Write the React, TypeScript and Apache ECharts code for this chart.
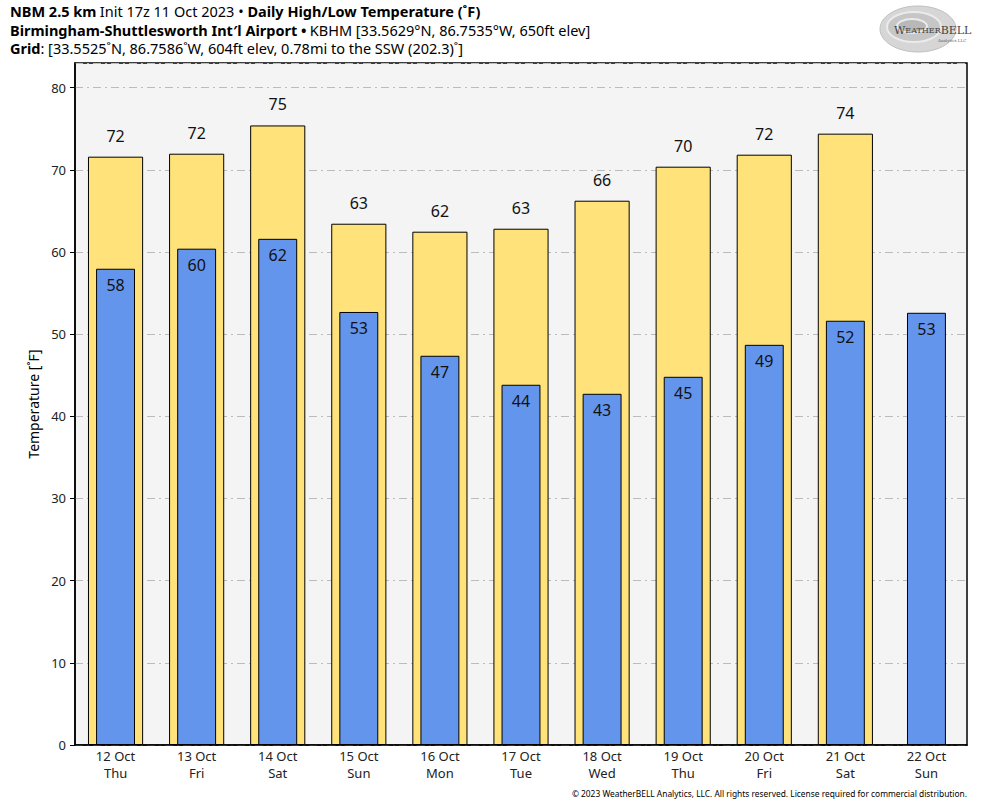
import React, { useEffect, useRef } from "react";
import * as echarts from "echarts";

const dates = ["12 Oct", "13 Oct", "14 Oct", "15 Oct", "16 Oct", "17 Oct", "18 Oct", "19 Oct", "20 Oct", "21 Oct", "22 Oct"];
const weekdays = ["Thu", "Fri", "Sat", "Sun", "Mon", "Tue", "Wed", "Thu", "Fri", "Sat", "Sun"];
const highs: (number | null)[] = [71.6, 71.96, 75.4, 63.44, 62.47, 62.83, 66.24, 70.38, 71.84, 74.4, null];
const lows = [57.96, 60.4, 61.6, 52.7, 47.37, 43.84, 42.74, 44.81, 48.7, 51.63, 52.6];
const yTicks = { min: 0, max: 83, interval: 10 };

const FONT = "Noto Sans";

export default function App() {
  const ref = useRef<HTMLDivElement>(null);
  useEffect(() => {
    const chart = echarts.init(ref.current!, null, { renderer: "svg" });
    const richTitle = {
      b: { fontSize: 14.5, fontWeight: "bold", fontFamily: FONT, fill: "#000", lineHeight: 17 },
      n: { fontSize: 14.5, fontFamily: FONT, fill: "#000", lineHeight: 17 },
    };
    chart.setOption({
      animation: false,
      backgroundColor: "#ffffff",
      textStyle: { fontFamily: FONT },
      grid: {
        left: 75,
        right: 17,
        top: 63,
        bottom: 63,
        show: true,
        backgroundColor: "#f4f4f4",
        borderColor: "#000",
        borderWidth: 1.5,
      },
      xAxis: [
        {
          type: "category",
          data: dates,
          axisLine: { lineStyle: { color: "#000", width: 1.5 } },
          axisTick: { show: false },
          axisLabel: { color: "#222", fontSize: 13, margin: 4, fontFamily: FONT },
        },
        {
          type: "category",
          data: weekdays,
          position: "bottom",
          offset: 17,
          axisLine: { show: false },
          axisTick: { show: false },
          axisLabel: { color: "#222", fontSize: 13, margin: 4, fontFamily: FONT },
        },
      ],
      yAxis: {
        type: "value",
        min: yTicks.min,
        max: yTicks.max,
        interval: yTicks.interval,
        name: "Temperature [˚F]",
        nameLocation: "middle",
        nameGap: 34,
        nameTextStyle: { color: "#000", fontSize: 14, fontFamily: FONT },
        axisLine: { show: true, lineStyle: { color: "#000", width: 1.5 } },
        axisTick: { show: true, length: 5, lineStyle: { color: "#000" } },
        axisLabel: { color: "#222", fontSize: 13, margin: 9, fontFamily: FONT, showMaxLabel: false },
        splitLine: { show: true, lineStyle: { color: "#bbbbbb", width: 1, type: [8, 4, 2, 4] } },
      },
      series: [
        {
          type: "bar",
          name: "High",
          xAxisIndex: 0,
          data: highs,
          barWidth: "68%",
          itemStyle: { color: "#ffe37a", borderColor: "#000", borderWidth: 1 },
          label: {
            show: true,
            position: "top",
            distance: 13,
            fontSize: 16,
            color: "#111",
            fontFamily: FONT,
            formatter: (p: any) => (p.value == null ? "" : String(Math.round(p.value))),
          },
          z: 2,
        },
        {
          type: "bar",
          name: "Low",
          xAxisIndex: 1,
          data: lows,
          barWidth: "48%",
          itemStyle: { color: "#6495ed", borderColor: "#000", borderWidth: 1 },
          label: {
            show: true,
            position: "insideTop",
            distance: 8,
            fontSize: 16,
            color: "#111",
            fontFamily: FONT,
            formatter: (p: any) => String(Math.round(p.value)),
          },
          z: 3,
        },
      ],
      graphic: [
        {
          type: "text",
          left: 10,
          top: 3.5,
          style: {
            text: "{b|NBM 2.5 km} {n|Init 17z 11 Oct 2023 • }{b|Daily High/Low Temperature (˚F)}",
            rich: richTitle,
          },
        },
        {
          type: "text",
          left: 10,
          top: 22,
          style: {
            text: "{b|Birmingham-Shuttlesworth Int′l Airport •} {n|KBHM [33.5629°N, 86.7535°W, 650ft elev]}",
            rich: richTitle,
          },
        },
        {
          type: "text",
          left: 10,
          top: 40.5,
          style: {
            text: "{b|Grid}{n|: [33.5525˚N, 86.7586˚W, 604ft elev, 0.78mi to the SSW (202.3)˚]}",
            rich: richTitle,
          },
        },
        {
          type: "ellipse",
          shape: { cx: 918, cy: 29, rx: 38, ry: 23 },
          style: { fill: "#d6d6d6", stroke: "#c0c0c0", lineWidth: 1 },
        },
        {
          type: "ellipse",
          shape: { cx: 914, cy: 27, rx: 27, ry: 15 },
          style: { fill: "#c6c6c6", stroke: "#ebebeb", lineWidth: 2 },
        },
        {
          type: "ellipse",
          shape: { cx: 912, cy: 26, rx: 15, ry: 7 },
          style: { fill: "#b8b8b8", stroke: "#ebebeb", lineWidth: 2 },
        },
        {
          type: "text",
          x: 894,
          y: 25,
          style: {
            text: "{s|W}{t|EATHER}{u|BELL}",
            rich: {
              s: { fontSize: 11, fontFamily: "DejaVu Serif", fill: "#444", lineHeight: 11 },
              t: { fontSize: 8, fontFamily: "DejaVu Serif", fill: "#444", lineHeight: 11 },
              u: { fontSize: 11, fontFamily: "DejaVu Serif", fill: "#444", lineHeight: 11 },
            },
          },
        },
        {
          type: "text",
          x: 938,
          y: 38,
          style: { text: "Analytics LLC", fontSize: 4, fontFamily: "DejaVu Serif", fill: "#666" },
        },
        {
          type: "text",
          right: 17,
          top: 789,
          style: {
            text: "© 2023 WeatherBELL Analytics, LLC. All rights reserved. License required for commercial distribution.",
            fontSize: 8.4,
            fontFamily: FONT,
            fill: "#000",
          },
        },
      ],
    });
    return () => chart.dispose();
  }, []);
  return (
    <div
      ref={ref}
      style={{ position: "absolute", left: 0, top: 0, width: 984, height: 808 }}
    />
  );
}
